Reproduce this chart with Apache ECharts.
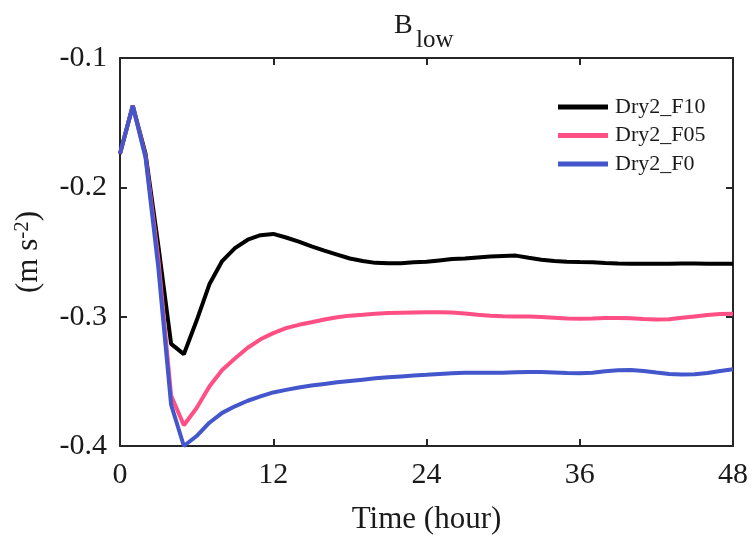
<!DOCTYPE html>
<html>
<head>
<meta charset="utf-8">
<script src="https://cdn.jsdelivr.net/npm/echarts@6/dist/echarts.min.js"></script>
<style>html,body{margin:0;padding:0;background:#fff}#c{width:753px;height:540px}</style>
</head>
<body>
<div id="c"></div>
<script>
const hours = [];
for (let h = 0; h <= 48; h++) hours.push(h);
const seriesNames = ['Dry2_F10', 'Dry2_F05', 'Dry2_F0'];
const dryF10 = [-0.174,-0.137,-0.174,-0.245,-0.321,-0.329,-0.303,-0.275,-0.257,-0.247,-0.2405,-0.237,-0.236,-0.2388,-0.242,-0.2456,-0.249,-0.252,-0.255,-0.257,-0.2584,-0.2587,-0.2587,-0.258,-0.2575,-0.2565,-0.2555,-0.255,-0.2542,-0.2535,-0.253,-0.2528,-0.2545,-0.256,-0.257,-0.2575,-0.2578,-0.258,-0.2585,-0.2588,-0.259,-0.259,-0.259,-0.259,-0.2588,-0.2588,-0.259,-0.259,-0.259];
const dryF05 = [-0.174,-0.137,-0.176,-0.255,-0.361,-0.384,-0.3706,-0.354,-0.3413,-0.3323,-0.324,-0.3175,-0.3127,-0.3089,-0.3063,-0.3043,-0.3022,-0.3005,-0.2992,-0.2985,-0.2977,-0.2972,-0.297,-0.2968,-0.2966,-0.2966,-0.2968,-0.2975,-0.2985,-0.2993,-0.2997,-0.2998,-0.2998,-0.3002,-0.3008,-0.3014,-0.3017,-0.3014,-0.301,-0.3011,-0.3013,-0.3018,-0.3022,-0.302,-0.3008,-0.2998,-0.2988,-0.298,-0.2977];
const dryF0 = [-0.174,-0.137,-0.177,-0.262,-0.368,-0.400,-0.3923,-0.382,-0.3744,-0.3693,-0.365,-0.3617,-0.3586,-0.3566,-0.3548,-0.3533,-0.352,-0.3507,-0.3497,-0.3487,-0.3477,-0.3469,-0.3462,-0.3455,-0.345,-0.3443,-0.3437,-0.3434,-0.3433,-0.3433,-0.3433,-0.343,-0.3428,-0.3428,-0.3432,-0.3436,-0.3438,-0.3433,-0.3422,-0.3414,-0.3413,-0.342,-0.3432,-0.3443,-0.3448,-0.3445,-0.3435,-0.342,-0.3407];
const xTicks = [0, 12, 24, 36, 48];
const yTicks = [-0.4, -0.3, -0.2, -0.1];
const colors = ['#000000', '#ff4f84', '#4356cc'];
const values = [dryF10, dryF05, dryF0];
const titleMain = 'B';
const titleSub = 'low';

const font = 'Liberation Serif';
const txt = '#1a1a1a';
const axisColor = '#262626';
const chart = echarts.init(document.getElementById('c'), null, {renderer: 'canvas'});
function pairs(arr) { return hours.map((h, i) => [h, arr[i]]); }
const commonX = {
  type: 'value', min: xTicks[0], max: xTicks[xTicks.length - 1], interval: 12,
  axisLine: {show: true, onZero: false, lineStyle: {color: axisColor, width: 2}},
  axisTick: {show: true, inside: true, length: 7, lineStyle: {color: axisColor, width: 2}},
  splitLine: {show: false}
};
const commonY = {
  type: 'value', min: yTicks[0], max: yTicks[yTicks.length - 1], interval: 0.1,
  axisLine: {show: true, onZero: false, lineStyle: {color: axisColor, width: 2}},
  axisTick: {show: true, inside: true, length: 7, lineStyle: {color: axisColor, width: 2}},
  splitLine: {show: false}
};
chart.setOption({
  animation: false,
  backgroundColor: '#ffffff',
  graphic: [
    {type: 'text', left: 394, top: 12, style: {text: titleMain, font: '28px "Liberation Serif"', fill: txt}},
    {type: 'text', left: 416, top: 28, style: {text: titleSub, font: '25px "Liberation Serif"', fill: txt}}
  ],
  grid: {left: 120, top: 58, right: 20, bottom: 90, containLabel: false},
  legend: {
    orient: 'vertical', left: 553, top: 91,
    itemWidth: 50, itemHeight: 5, itemGap: 6.5,
    icon: 'rect',
    data: seriesNames,
    textStyle: {fontFamily: font, fontSize: 22, color: txt, padding: [0, 0, 0, 2]}
  },
  xAxis: [
    Object.assign({}, commonX, {
      position: 'bottom',
      name: 'Time (hour)', nameLocation: 'middle', nameGap: 58,
      nameTextStyle: {fontFamily: font, fontSize: 31, color: txt},
      axisLabel: {fontFamily: font, fontSize: 30, color: txt, margin: 14}
    }),
    Object.assign({}, commonX, {position: 'top', axisLabel: {show: false}})
  ],
  yAxis: [
    Object.assign({}, commonY, {
      position: 'left',
      name: '{m|(m s}{sup|-2}{m|)}', nameLocation: 'middle', nameGap: 76, nameRotate: 90,
      nameTextStyle: {
        rich: {
          m: {fontFamily: font, fontSize: 31, color: txt, lineHeight: 32, verticalAlign: 'bottom'},
          sup: {fontFamily: font, fontSize: 21, color: txt, lineHeight: 22, padding: [0, 0, 12, 0], verticalAlign: 'top'}
        }
      },
      axisLabel: {fontFamily: font, fontSize: 30, color: txt, margin: 13,
        formatter: v => v.toFixed(1)}
    }),
    Object.assign({}, commonY, {position: 'right', axisLabel: {show: false}})
  ],
  series: seriesNames.map((n, i) => ({
    name: n, type: 'line', data: pairs(values[i]),
    showSymbol: false, symbol: 'none', smooth: false,
    lineStyle: {color: colors[i], width: 4},
    itemStyle: {color: colors[i]},
    z: 3 + i
  }))
});
</script>
</body>
</html>
